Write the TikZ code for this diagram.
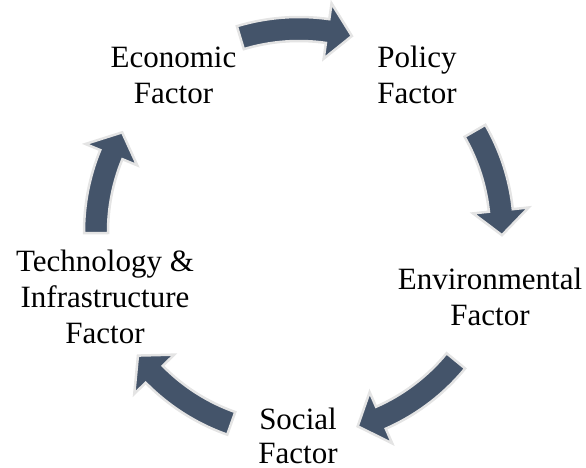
\documentclass[tikz,border=0pt]{standalone}
\usepackage{fontspec}
\setmainfont{Liberation Serif}
\definecolor{arrowfill}{HTML}{44546A}
\definecolor{arrowglow}{HTML}{E4E4E4}
\begin{document}
\begin{tikzpicture}[x=1pt,y=1pt,
  label/.style={font=\fontsize{31}{36}\selectfont, align=center, inner sep=0pt, text=black},
  cyclearrow/.style={fill=arrowfill, draw=arrowglow, line width=2.5pt, line join=miter}]
\useasboundingbox (0,0) rectangle (586,-468);
% labels
\node[label] (eco) at (173.5,-75) {Economic\\Factor};
\node[label] (pol) at (417,-75) {Policy\\Factor};
\node[label] (env) at (490,-297) {Environmental\\Factor};
\node[label, font=\fontsize{31}{34}\selectfont] (soc) at (298,-436) {Social\\Factor};
\node[label] (tec) at (105,-297) {Technology \&\\Infrastructure\\Factor};
% curved block arrows (tail angle / tip angle)
\coordinate (C) at (299,-232);
\begin{scope}[shift={(C)}]
\foreach \ta/\tp in {106.8/74.9, 29.9/-0.9, -39.4/-73.2, -109.5/-142.5, 180.3/150.6}{
  \pgfmathsetmacro{\tb}{\tp+7}
  \draw[cyclearrow] (\ta:215) arc[start angle=\ta, end angle=\tb, radius=215]
    -- (\tb:231) -- (\tp:203) -- (\tb:175) -- (\tb:191)
    arc[start angle=\tb, end angle=\ta, radius=191] -- cycle;
}
\end{scope}
\end{tikzpicture}
\end{document}
